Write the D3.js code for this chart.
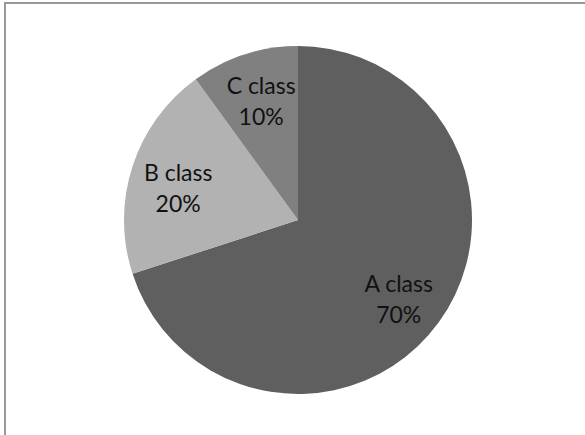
<!DOCTYPE html>
<html>
<head>
<meta charset="utf-8">
<script src="https://cdn.jsdelivr.net/npm/d3@7"></script>
<style>
  body { margin: 0; background: #fff; }
  svg { display: block; }
</style>
</head>
<body>
<svg id="chart" width="585" height="435"></svg>
<script>
// slice data, clockwise from 12 o'clock
var categories = ["A class", "B class", "C class"];
var shares = [70, 20, 10];
var shades = ["#5f5f5f", "#b2b2b2", "#808080"];

var svg = d3.select("#chart");

// chart area border (runs off the right and bottom edge)
svg.append("rect")
    .attr("x", 5)
    .attr("y", 3)
    .attr("width", 620)
    .attr("height", 500)
    .attr("fill", "#fff")
    .attr("stroke", "#999")
    .attr("stroke-width", 2);

var cx = 298, cy = 220, radius = 174;

var slices = categories.map(function(c, i) {
    return {name: c, value: shares[i], color: shades[i]};
});

var pie = d3.pie()
    .sort(null)
    .value(function(d) { return d.value; });

var arc = d3.arc()
    .innerRadius(0)
    .outerRadius(radius);

// "best fit" style label placement: distance as fraction of radius + nudge
var labelFrac = [0.765, 0.70, 0.667];
var labelNudge = [[-7, 10], [-4, 15], [-1, 0]];

var g = svg.append("g")
    .attr("transform", "translate(" + cx + "," + cy + ")");

var arcs = pie(slices);

g.selectAll("path.slice")
    .data(arcs)
    .enter()
    .append("path")
    .attr("class", "slice")
    .attr("d", arc)
    .attr("fill", function(d) { return d.data.color; });

var labels = g.selectAll("text.label")
    .data(arcs)
    .enter()
    .append("text")
    .attr("class", "label")
    .attr("text-anchor", "middle")
    .style("font-family", "Lato, sans-serif")
    .style("font-size", "23px")
    .attr("fill", "#111")
    .attr("transform", function(d, i) {
        var r = radius * labelFrac[i];
        var p = d3.arc().innerRadius(r).outerRadius(r).centroid(d);
        return "translate(" + (p[0] + labelNudge[i][0]) + "," + (p[1] + labelNudge[i][1]) + ")";
    });

labels.append("tspan")
    .attr("x", 0)
    .attr("y", -16)
    .text(function(d) { return d.data.name; });

labels.append("tspan")
    .attr("x", 0)
    .attr("y", 15)
    .text(function(d) { return d.data.value + "%"; });
</script>
</body>
</html>
